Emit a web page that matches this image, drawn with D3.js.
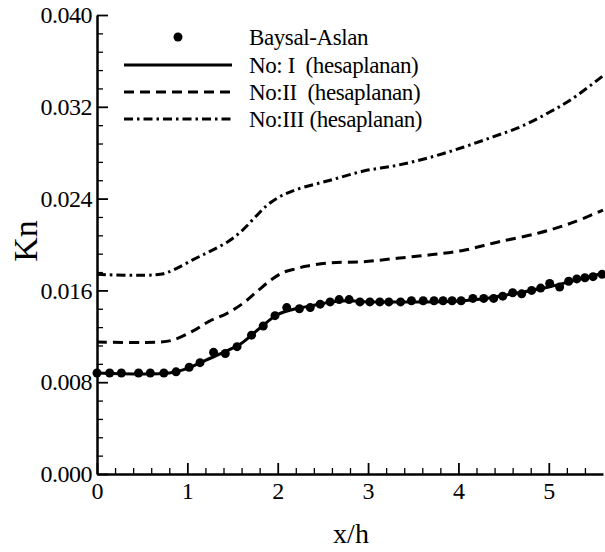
<!DOCTYPE html>
<html>
<head>
<meta charset="utf-8">
<script src="https://cdn.jsdelivr.net/npm/d3@7"></script>
</head>
<body style="margin:0">
<svg width="605" height="552"></svg>
<script>
// Baysal-Aslan (markers)
var expX = [0.00, 0.14, 0.27, 0.46, 0.59, 0.74, 0.875, 1.02, 1.14, 1.29, 1.42, 1.55, 1.71, 1.84, 1.97, 2.10,
  2.24, 2.36, 2.47, 2.58, 2.68, 2.79, 2.91, 3.02, 3.13, 3.23, 3.36, 3.48, 3.61, 3.73, 3.83, 3.93, 4.03,
  4.16, 4.28, 4.39, 4.49, 4.60, 4.70, 4.81, 4.91, 5.01, 5.12, 5.22, 5.31, 5.40, 5.49, 5.59];
var expKn = [0.0088, 0.0088, 0.0088, 0.0088, 0.0088, 0.0088, 0.0089, 0.0093, 0.0097, 0.0106, 0.0105, 0.0111,
  0.0121, 0.0129, 0.0138, 0.0145, 0.0144, 0.0145, 0.0148, 0.0150, 0.0152, 0.0152, 0.0150, 0.0150, 0.0150,
  0.0150, 0.0150, 0.0151, 0.0151, 0.0151, 0.0151, 0.0151, 0.0151, 0.0153, 0.0153, 0.0153, 0.0155, 0.0158,
  0.0157, 0.0160, 0.0162, 0.0166, 0.0163, 0.0168, 0.0170, 0.0171, 0.0172, 0.0174];

// No: I (solid)
var n1X = [0, 0.8, 1.0, 1.2, 1.4, 1.6, 1.8, 2.0, 2.2, 2.4, 2.6, 2.8, 3.0, 3.4, 3.8, 4.2, 4.6, 5.0, 5.3, 5.6];
var n1Kn = [0.0088, 0.0088, 0.0092, 0.0099, 0.0106, 0.0114, 0.0127, 0.0139, 0.0144, 0.0147, 0.0150, 0.0151,
  0.0150, 0.0150, 0.0150, 0.0152, 0.0157, 0.0163, 0.0169, 0.0175];

// No: II (dashed)
var n2X = [0, 0.7, 0.85, 1.07, 1.24, 1.44, 1.62, 1.77, 1.94, 2.07, 2.21, 2.31, 2.58, 2.95, 3.32, 3.69, 4.06,
  4.43, 4.89, 5.26, 5.6];
var n2Kn = [0.0115, 0.0115, 0.0117, 0.0125, 0.0133, 0.0140, 0.0149, 0.0159, 0.0170, 0.0176, 0.0179, 0.0181,
  0.0184, 0.0185, 0.0188, 0.0191, 0.0195, 0.0202, 0.0210, 0.0219, 0.0230];

// No: III (dash-dot)
var n3X = [0, 0.7, 0.85, 1.07, 1.25, 1.44, 1.59, 1.74, 1.88, 2.03, 2.21, 2.58, 2.95, 3.32, 3.69, 4.06, 4.39,
  4.7, 5.0, 5.26, 5.6];
var n3Kn = [0.0174, 0.0174, 0.0178, 0.0187, 0.0194, 0.0202, 0.0211, 0.0223, 0.0234, 0.0242, 0.0248, 0.0256,
  0.0264, 0.0269, 0.0276, 0.0285, 0.0294, 0.0303, 0.0315, 0.0327, 0.0347];

var xTicks = [0, 1, 2, 3, 4, 5];
var yTicks = [0, 0.008, 0.016, 0.024, 0.032, 0.040];
var legendLabels = ["Baysal-Aslan", "No: I  (hesaplanan)", "No:II  (hesaplanan)", "No:III (hesaplanan)"];

var FONT = "'Liberation Serif'";

var svg = d3.select("svg");
var padding = { t: 15, r: 2, b: 78, l: 97 };
var svgWidth = +svg.attr("width");
var svgHeight = +svg.attr("height");

var xscale = d3.scaleLinear().domain([0, 5.6]).range([padding.l, svgWidth - padding.r]);
var yscale = d3.scaleLinear().domain([0, 0.04]).range([svgHeight - padding.b, padding.t]);

// minor ticks (every 0.2 in x, 0.0016 in y)
var xMinor = d3.range(0.2, 5.5, 0.2).filter(function (v) { return Math.abs(v - Math.round(v)) > 1e-6; });
var yMinor = d3.range(0, 0.0401, 0.0016).filter(function (v) { return Math.abs(v / 0.008 - Math.round(v / 0.008)) > 1e-6; });

var y0 = yscale(0);

svg.append("g")
  .attr("transform", "translate(0," + y0 + ")")
  .call(d3.axisBottom(xscale).tickValues(xMinor).tickSize(-6).tickSizeOuter(0).tickFormat(""))
  .call(function (g) { g.select(".domain").remove(); g.selectAll("line").attr("stroke-width", 1.3); });

svg.append("g")
  .attr("transform", "translate(" + padding.l + ",0)")
  .call(d3.axisLeft(yscale).tickValues(yMinor).tickSize(-6).tickSizeOuter(0).tickFormat(""))
  .call(function (g) { g.select(".domain").remove(); g.selectAll("line").attr("stroke-width", 1.3); });

var xAxis = svg.append("g")
  .attr("transform", "translate(0," + y0 + ")")
  .call(d3.axisBottom(xscale).tickValues(xTicks).tickSize(-11).tickSizeOuter(0).tickPadding(8).tickFormat(d3.format("d")));
xAxis.attr("font-family", null).attr("font-size", null);
xAxis.select(".domain").attr("stroke-width", 2.5);
xAxis.selectAll("line").attr("stroke-width", 1.8);
xAxis.selectAll("text").style("font-family", FONT).attr("font-size", 24);

var yAxis = svg.append("g")
  .attr("transform", "translate(" + padding.l + ",0)")
  .call(d3.axisLeft(yscale).tickValues(yTicks).tickSize(-11).tickSizeOuter(0).tickPadding(5).tickFormat(d3.format(".3f")));
yAxis.attr("font-family", null).attr("font-size", null);
yAxis.select(".domain").attr("stroke-width", 2.5);
yAxis.selectAll("line").attr("stroke-width", 1.8);
yAxis.selectAll("text").style("font-family", FONT).attr("font-size", 24).attr("letter-spacing", -0.5);

// axis titles
svg.append("text")
  .attr("x", 351).attr("y", 543)
  .attr("text-anchor", "middle")
  .attr("font-size", 28)
  .style("font-family", FONT)
  .text("x/h");

svg.append("text")
  .attr("transform", "translate(37,241) rotate(-90)")
  .attr("text-anchor", "middle")
  .attr("font-size", 34)
  .style("font-family", FONT)
  .text("Kn");

// curves
var line = d3.line()
  .x(function (d) { return xscale(d[0]); })
  .y(function (d) { return yscale(d[1]); })
  .curve(d3.curveCatmullRom.alpha(0.5));

var styles = [
  { dash: null },
  { dash: "10,6" },
  { dash: "9,4,2.5,4" }
];
var series = [d3.zip(n1X, n1Kn), d3.zip(n2X, n2Kn), d3.zip(n3X, n3Kn)];

series.forEach(function (s, i) {
  svg.append("path")
    .datum(s)
    .attr("d", line)
    .attr("fill", "none")
    .attr("stroke", "#000")
    .attr("stroke-width", 3)
    .attr("stroke-dasharray", styles[i].dash);
});

svg.selectAll(".dot")
  .data(d3.zip(expX, expKn))
  .enter()
  .append("circle")
  .attr("class", "dot")
  .attr("cx", function (d) { return xscale(d[0]); })
  .attr("cy", function (d) { return yscale(d[1]); })
  .attr("r", 4.5)
  .attr("fill", "#000");

// legend
var legend = svg.append("g");
var legY = [37, 65, 92, 119];
legend.append("circle").attr("cx", 178).attr("cy", legY[0]).attr("r", 4.5).attr("fill", "#000");
for (var i = 0; i < 3; i++) {
  legend.append("line")
    .attr("x1", 124).attr("x2", 232)
    .attr("y1", legY[i + 1]).attr("y2", legY[i + 1])
    .attr("stroke", "#000")
    .attr("stroke-width", 3)
    .attr("stroke-dasharray", styles[i].dash);
}
legend.selectAll(".lt")
  .data(legendLabels)
  .enter()
  .append("text")
  .attr("class", "lt")
  .attr("x", 249)
  .attr("y", function (d, i) { return legY[i] + 8; })
  .attr("font-size", 23)
  .attr("letter-spacing", -0.4)
  .style("font-family", FONT)
  .style("white-space", "pre")
  .text(function (d) { return d; });
</script>
</body>
</html>
